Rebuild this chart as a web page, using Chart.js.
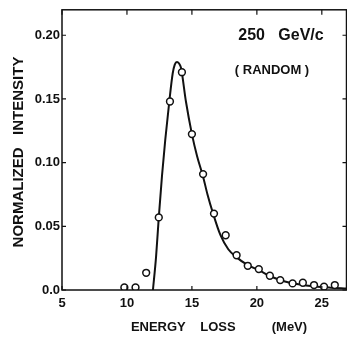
<!DOCTYPE html>
<html>
    <head>
        <meta charset="UTF-8">
        <title>Energy Loss</title>
        <style>
            html,body{margin:0;padding:0;background:#fff;overflow:hidden;}
            #chartContainer{position:relative;width:352px;height:337px;}
        </style>
        <script src="https://cdn.jsdelivr.net/npm/chart.js@4/dist/chart.umd.min.js"></script>
    </head>
    <body>
        <div id="chartContainer"><canvas id="chart"></canvas></div>
        <script>
            // measured points (circles)
            const energyPoints=[9.8,10.66,11.48,12.45,13.31,14.23,15.0,15.86,16.7,17.6,
                18.44,19.3,20.15,21.0,21.8,22.75,23.54,24.4,25.17,26.0];
            const intensityPoints=[0.002,0.002,0.0135,0.057,0.148,0.171,0.1224,0.091,0.060,0.043,
                0.0273,0.019,0.0164,0.0112,0.0078,0.0052,0.0057,0.0039,0.0026,0.0039];

            // calculated curve
            const curveEnergy=[12.0,12.24,12.45,12.7,12.95,13.26,13.52,13.68,13.85,14.0,14.16,14.54,
                15.0,15.4,15.86,16.2,16.6,17.2,17.8,18.4,19.3,20.15,21.0,21.9,23.2,24.5,25.7,26.9];
            const curveIntensity=[0,0.026,0.057,0.09,0.118,0.148,0.170,0.177,0.179,0.178,0.1745,0.148,
                0.1224,0.105,0.089,0.075,0.061,0.043,0.032,0.026,0.0195,0.0156,0.011,0.0075,0.0045,0.0027,0.0018,0.0012];

            const xTicks=[5,10,15,20,25];
            const yTicks=[0,0.05,0.10,0.15,0.20];
            const yLabels=["0.0","0.05","0.10","0.15","0.20"];

            const ink="#111";
            const labelFont={family:"'Liberation Sans', Arial, sans-serif",size:13,weight:"bold"};

            // frame, inward tick marks and the texts
            const framePlugin={
                id:"frame",
                afterDraw(chart){
                    const {ctx,chartArea:a,scales:{x,y}}=chart;
                    ctx.save();
                    ctx.strokeStyle=ink;
                    ctx.lineWidth=1.5;
                    ctx.strokeRect(a.left,a.top,a.right-a.left,a.bottom-a.top);
                    ctx.lineWidth=1.2;
                    ctx.beginPath();
                    for(const v of xTicks){
                        const px=x.getPixelForValue(v);
                        ctx.moveTo(px,a.bottom);ctx.lineTo(px,a.bottom-4);
                        ctx.moveTo(px,a.top);ctx.lineTo(px,a.top+5);
                    }
                    for(const v of yTicks){
                        const py=y.getPixelForValue(v);
                        ctx.moveTo(a.left,py);ctx.lineTo(a.left+4,py);
                        ctx.moveTo(a.right,py);ctx.lineTo(a.right-4,py);
                    }
                    ctx.stroke();

                    ctx.fillStyle=ink;
                    ctx.textAlign="center";
                    ctx.textBaseline="middle";
                    ctx.font="bold 13px 'Liberation Sans', Arial, sans-serif";
                    ctx.fillText("ENERGY    LOSS          (MeV)",a.left+157,327);

                    ctx.save();
                    ctx.translate(19,152);
                    ctx.rotate(-Math.PI/2);
                    ctx.font="bold 15px 'Liberation Sans', Arial, sans-serif";
                    ctx.fillText("NORMALIZED   INTENSITY",0,0);
                    ctx.restore();

                    ctx.font="bold 16px 'Liberation Sans', Arial, sans-serif";
                    ctx.fillText("250   GeV/c",281,36);
                    ctx.font="bold 13px 'Liberation Sans', Arial, sans-serif";
                    ctx.fillText("( RANDOM )",272,70);
                    ctx.restore();
                }
            };

            const chart=new Chart(document.getElementById("chart"),{
                type:"scatter",
                data:{
                    datasets:[
                        {
                            label:"data",
                            data:energyPoints.map((e,i)=>({x:e,y:intensityPoints[i]})),
                            pointStyle:"circle",
                            pointRadius:3.4,
                            pointBorderWidth:1.5,
                            pointBackgroundColor:"#fff",
                            pointBorderColor:ink,
                            showLine:false,
                            order:0
                        },
                        {
                            label:"curve",
                            data:curveEnergy.map((e,i)=>({x:e,y:curveIntensity[i]})),
                            showLine:true,
                            pointRadius:0,
                            borderColor:ink,
                            borderWidth:2,
                            cubicInterpolationMode:"monotone",
                            order:1
                        }
                    ]
                },
                options:{
                    responsive:true,
                    maintainAspectRatio:false,
                    animation:false,
                    events:[],
                    layout:{padding:{left:0,top:8,right:4,bottom:0}},
                    plugins:{legend:{display:false},tooltip:{enabled:false}},
                    scales:{
                        x:{
                            type:"linear",
                            min:5,
                            max:26.9,
                            afterBuildTicks:s=>{s.ticks=xTicks.map(v=>({value:v}));},
                            afterFit:s=>{s.height=47;},
                            grid:{display:false,drawTicks:false},
                            border:{display:false},
                            ticks:{color:ink,font:labelFont,padding:6,maxRotation:0,
                                callback:v=>String(v)}
                        },
                        y:{
                            type:"linear",
                            min:0,
                            max:0.22,
                            afterBuildTicks:s=>{s.ticks=yTicks.map(v=>({value:v}));},
                            afterFit:s=>{s.width=62;},
                            grid:{display:false,drawTicks:false},
                            border:{display:false},
                            ticks:{color:ink,font:labelFont,padding:2,
                                callback:(v,i)=>yLabels[i]}
                        }
                    }
                },
                plugins:[framePlugin]
            });
        </script>
    </body>
</html>
